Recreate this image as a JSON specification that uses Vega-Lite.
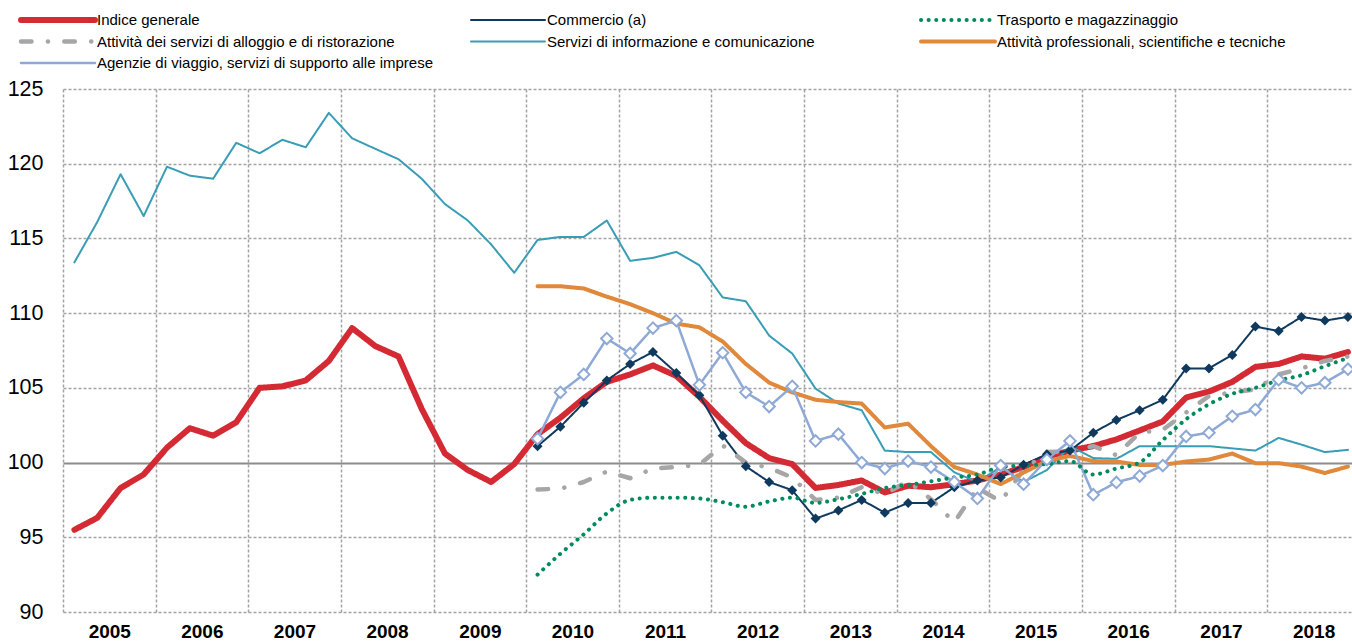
{
  "$schema": "https://vega.github.io/schema/vega-lite/v6.json",
  "width": 1289,
  "height": 523,
  "autosize": {"type": "none"},
  "padding": {"left": 63, "top": 89, "right": 0, "bottom": 31},
  "background": "white",
  "config": {
    "view": {"stroke": null},
    "font": "Liberation Sans, Arial, sans-serif"
  },
  "data": {
    "values": [
      {"d": "2005-02-15", "A": 95.5, "E": 113.4},
      {"d": "2005-05-16", "A": 96.3, "E": 116.1},
      {"d": "2005-08-16", "A": 98.3, "E": 119.3},
      {"d": "2005-11-15", "A": 99.2, "E": 116.5},
      {"d": "2006-02-15", "A": 101.0, "E": 119.8},
      {"d": "2006-05-16", "A": 102.3, "E": 119.2},
      {"d": "2006-08-16", "A": 101.8, "E": 119.0},
      {"d": "2006-11-15", "A": 102.7, "E": 121.4},
      {"d": "2007-02-15", "A": 105.0, "E": 120.7},
      {"d": "2007-05-16", "A": 105.1, "E": 121.6},
      {"d": "2007-08-16", "A": 105.5, "E": 121.1},
      {"d": "2007-11-15", "A": 106.8, "E": 123.4},
      {"d": "2008-02-15", "A": 109.0, "E": 121.7},
      {"d": "2008-05-16", "A": 107.8, "E": 121.0},
      {"d": "2008-08-16", "A": 107.1, "E": 120.3},
      {"d": "2008-11-15", "A": 103.6, "E": 119.0},
      {"d": "2009-02-15", "A": 100.6, "E": 117.3},
      {"d": "2009-05-16", "A": 99.5, "E": 116.2},
      {"d": "2009-08-16", "A": 98.7, "E": 114.6},
      {"d": "2009-11-15", "A": 99.9, "E": 112.7},
      {"d": "2010-02-15", "A": 101.9, "B": 101.1, "C": 92.5, "D": 98.2, "E": 114.9, "F": 111.8, "G": 101.6},
      {"d": "2010-05-16", "A": 103.0, "B": 102.4, "C": 93.9, "D": 98.25, "E": 115.1, "F": 111.8, "G": 104.7},
      {"d": "2010-08-16", "A": 104.3, "B": 104.0, "C": 95.2, "D": 98.7, "E": 115.1, "F": 111.65, "G": 105.9},
      {"d": "2010-11-15", "A": 105.4, "B": 105.5, "C": 96.6, "D": 99.4, "E": 116.2, "F": 111.1, "G": 108.3},
      {"d": "2011-02-15", "A": 105.9, "B": 106.6, "C": 97.5, "D": 98.95, "E": 113.5, "F": 110.6, "G": 107.3},
      {"d": "2011-05-16", "A": 106.5, "B": 107.4, "C": 97.65, "D": 99.6, "E": 113.7, "F": 110.0, "G": 109.0},
      {"d": "2011-08-16", "A": 105.8, "B": 106.0, "C": 97.65, "D": 99.7, "E": 114.1, "F": 109.3, "G": 109.5},
      {"d": "2011-11-15", "A": 104.4, "B": 104.5, "C": 97.6, "D": 99.85, "E": 113.2, "F": 109.05, "G": 105.2},
      {"d": "2012-02-15", "A": 102.8, "B": 101.8, "C": 97.35, "D": 101.15, "E": 111.05, "F": 108.1, "G": 107.35},
      {"d": "2012-05-16", "A": 101.3, "B": 99.75, "C": 97.05, "D": 100.0, "E": 110.8, "F": 106.6, "G": 104.7},
      {"d": "2012-08-16", "A": 100.3, "B": 98.7, "C": 97.4, "D": 99.65, "E": 108.5, "F": 105.35, "G": 103.75},
      {"d": "2012-11-15", "A": 99.9, "B": 98.15, "C": 97.65, "D": 99.0, "E": 107.3, "F": 104.7, "G": 105.1},
      {"d": "2013-02-15", "A": 98.3, "B": 96.25, "C": 97.3, "D": 97.5, "E": 104.95, "F": 104.2, "G": 101.45},
      {"d": "2013-05-16", "A": 98.5, "B": 96.8, "C": 97.55, "D": 97.65, "E": 103.95, "F": 104.05, "G": 101.9},
      {"d": "2013-08-16", "A": 98.8, "B": 97.5, "C": 97.9, "D": 98.35, "E": 103.5, "F": 103.95, "G": 100.0},
      {"d": "2013-11-15", "A": 98.0, "B": 96.65, "C": 98.3, "D": 97.9, "E": 100.8, "F": 102.35, "G": 99.6},
      {"d": "2014-02-15", "A": 98.45, "B": 97.3, "C": 98.5, "D": 98.75, "E": 100.7, "F": 102.6, "G": 100.1},
      {"d": "2014-05-16", "A": 98.35, "B": 97.3, "C": 98.75, "D": 97.55, "E": 100.7, "F": 101.1, "G": 99.7},
      {"d": "2014-08-16", "A": 98.55, "B": 98.35, "C": 99.0, "D": 96.0, "E": 99.35, "F": 99.7, "G": 98.7},
      {"d": "2014-11-15", "A": 98.8, "B": 98.8, "C": 99.2, "D": 98.3, "E": 98.7, "F": 99.2, "G": 97.6},
      {"d": "2015-02-15", "A": 99.2, "B": 99.0, "C": 99.7, "D": 97.4, "E": 99.7, "F": 98.56, "G": 99.8},
      {"d": "2015-05-16", "A": 99.7, "B": 99.85, "C": 99.8, "D": 99.5, "E": 98.7, "F": 99.33, "G": 98.55},
      {"d": "2015-08-16", "A": 100.4, "B": 100.55, "C": 99.9, "D": 100.7, "E": 99.5, "F": 100.1, "G": 100.2},
      {"d": "2015-11-15", "A": 100.8, "B": 100.8, "C": 100.1, "D": 100.75, "E": 101.1, "F": 100.44, "G": 101.45},
      {"d": "2016-02-15", "A": 101.1, "B": 102.0, "C": 99.2, "D": 101.1, "E": 100.3, "F": 100.1, "G": 97.85},
      {"d": "2016-05-16", "A": 101.55, "B": 102.85, "C": 99.6, "D": 100.5, "E": 100.25, "F": 100.07, "G": 98.67},
      {"d": "2016-08-16", "A": 102.15, "B": 103.5, "C": 100.0, "D": 102.0, "E": 101.1, "F": 99.84, "G": 99.1},
      {"d": "2016-11-15", "A": 102.75, "B": 104.2, "C": 101.5, "D": 102.2, "E": 101.1, "F": 99.84, "G": 99.8},
      {"d": "2017-02-15", "A": 104.35, "B": 106.3, "C": 102.9, "D": 103.35, "E": 101.1, "F": 100.07, "G": 101.75},
      {"d": "2017-05-16", "A": 104.75, "B": 106.3, "C": 103.9, "D": 104.45, "E": 101.1, "F": 100.2, "G": 102.0},
      {"d": "2017-08-16", "A": 105.4, "B": 107.2, "C": 104.6, "D": 104.7, "E": 100.95, "F": 100.6, "G": 103.1},
      {"d": "2017-11-15", "A": 106.4, "B": 109.1, "C": 105.0, "D": 104.9, "E": 100.8, "F": 99.96, "G": 103.55},
      {"d": "2018-02-15", "A": 106.6, "B": 108.8, "C": 105.5, "D": 105.9, "E": 101.65, "F": 99.96, "G": 105.55},
      {"d": "2018-05-16", "A": 107.1, "B": 109.75, "C": 105.85, "D": 106.3, "E": 101.2, "F": 99.73, "G": 105.0},
      {"d": "2018-08-16", "A": 106.95, "B": 109.5, "C": 106.45, "D": 106.8, "E": 100.7, "F": 99.3, "G": 105.35},
      {"d": "2018-11-15", "A": 107.4, "B": 109.75, "C": 107.0, "D": 107.1, "E": 100.85, "F": 99.73, "G": 106.25}
    ]
  },
  "transform": [
    {"fold": ["A", "B", "C", "D", "E", "F", "G"], "as": ["s", "v"]},
    {"filter": "isValid(datum.v)"}
  ],
  "encoding": {
    "x": {
      "field": "d",
      "type": "temporal",
      "scale": {
        "type": "utc",
        "domain": [
          {"year": 2005, "month": 1, "date": 1, "utc": true},
          {"year": 2018, "month": 12, "date": 1, "utc": true}
        ]
      },
      "axis": {
        "title": null,
        "values": [
          {"year": 2005, "month": 1, "date": 1, "utc": true},
          {"year": 2006, "month": 1, "date": 1, "utc": true},
          {"year": 2007, "month": 1, "date": 1, "utc": true},
          {"year": 2008, "month": 1, "date": 1, "utc": true},
          {"year": 2009, "month": 1, "date": 1, "utc": true},
          {"year": 2010, "month": 1, "date": 1, "utc": true},
          {"year": 2011, "month": 1, "date": 1, "utc": true},
          {"year": 2012, "month": 1, "date": 1, "utc": true},
          {"year": 2013, "month": 1, "date": 1, "utc": true},
          {"year": 2014, "month": 1, "date": 1, "utc": true},
          {"year": 2015, "month": 1, "date": 1, "utc": true},
          {"year": 2016, "month": 1, "date": 1, "utc": true},
          {"year": 2017, "month": 1, "date": 1, "utc": true},
          {"year": 2018, "month": 1, "date": 1, "utc": true}
        ],
        "format": "%Y",
        "grid": true,
        "gridColor": "#A3A3A3",
        "gridDash": [3, 2],
        "gridWidth": 1.5,
        "domain": false,
        "ticks": false,
        "tickSize": 0,
        "labelOffset": 46.3,
        "labelPadding": 10,
        "labelFontSize": 19,
        "labelFontWeight": "bold",
        "labelColor": "#000000",
        "labelFlush": false,
        "labelOverlap": false,
        "labelBound": false
      }
    },
    "y": {
      "field": "v",
      "type": "quantitative",
      "scale": {"domain": [90, 125], "zero": false, "nice": false},
      "axis": {
        "title": null,
        "values": [90, 95, 100, 105, 110, 115, 120, 125],
        "grid": true,
        "gridColor": {"condition": {"test": "datum.value === 100", "value": "#8C8C8C"}, "value": "#A3A3A3"},
        "gridDash": {"condition": {"test": "datum.value === 100", "value": []}, "value": [3, 2]},
        "gridWidth": {"condition": {"test": "datum.value === 100", "value": 2}, "value": 1.5},
        "domain": false,
        "ticks": false,
        "tickSize": 0,
        "labelPadding": 20,
        "labelFontSize": 21.5,
        "labelColor": "#000000",
        "labelFlush": false,
        "labelOverlap": false
      }
    }
  },
  "layer": [
    {
      "transform": [{"filter": "datum.s !== 'C'"}],
      "mark": {"type": "line", "strokeCap": "round", "strokeJoin": "round"},
      "encoding": {
        "color": {
          "field": "s",
          "type": "nominal",
          "scale": {
            "type": "ordinal",
            "domain": ["A", "B", "C", "D", "E", "F", "G"],
            "range": ["#D42A33", "#0F3A5E", "#008A5E", "#A6A6A6", "#3A9DB6", "#E0893C", "#8FA9D7"]
          },
          "legend": {
            "orient": "none",
            "legendX": -45,
            "legendY": -79,
            "direction": "horizontal",
            "columns": 3,
            "title": null,
            "padding": 0,
            "symbolType": "stroke",
            "symbolSize": 5476,
            "symbolOffset": 0,
            "clipHeight": 20,
            "rowPadding": 1.5,
            "columnPadding": 34,
            "gridAlign": "all",
            "labelFontSize": 15,
            "labelColor": "#000000",
            "labelOffset": -1,
            "labelLimit": 500,
            "encode": {"symbols": {"update": {"strokeCap": {"value": "round"}}}},
            "labelExpr": "datum.label === 'A' ? 'Indice generale' : datum.label === 'B' ? 'Commercio (a)' : datum.label === 'C' ? 'Trasporto e magazzinaggio' : datum.label === 'D' ? 'Attività dei servizi di alloggio e di ristorazione' : datum.label === 'E' ? 'Servizi di informazione e comunicazione' : datum.label === 'F' ? 'Attività professionali, scientifiche e tecniche' : 'Agenzie di viaggio, servizi di supporto alle imprese'"
          }
        },
        "strokeDash": {
          "field": "s",
          "type": "nominal",
          "scale": {
            "type": "ordinal",
            "domain": ["A", "B", "C", "D", "E", "F", "G"],
            "range": [[1, 0], [1, 0], [0.1, 7.5], [10.5, 16.4, 0.1, 16.3], [1, 0], [1, 0], [1, 0]]
          }
        },
        "strokeWidth": {
          "field": "s",
          "type": "nominal",
          "scale": {
            "type": "ordinal",
            "domain": ["A", "B", "C", "D", "E", "F", "G"],
            "range": [6, 2, 4, 4.5, 2, 4, 2.5]
          }
        }
      }
    },
    {
      "transform": [{"filter": "datum.s === 'C'"}],
      "mark": {"type": "line", "interpolate": "monotone", "strokeCap": "round"},
      "encoding": {
        "color": {
          "field": "s",
          "type": "nominal",
          "scale": {
            "type": "ordinal",
            "domain": ["A", "B", "C", "D", "E", "F", "G"],
            "range": ["#D42A33", "#0F3A5E", "#008A5E", "#A6A6A6", "#3A9DB6", "#E0893C", "#8FA9D7"]
          }
        },
        "strokeDash": {
          "field": "s",
          "type": "nominal",
          "scale": {
            "type": "ordinal",
            "domain": ["A", "B", "C", "D", "E", "F", "G"],
            "range": [[1, 0], [1, 0], [0.1, 7.5], [10.5, 16.4, 0.1, 16.3], [1, 0], [1, 0], [1, 0]]
          }
        },
        "strokeWidth": {
          "field": "s",
          "type": "nominal",
          "scale": {
            "type": "ordinal",
            "domain": ["A", "B", "C", "D", "E", "F", "G"],
            "range": [6, 2, 4, 4.5, 2, 4, 2.5]
          }
        }
      }
    },
    {
      "transform": [{"filter": "datum.s === 'B'"}],
      "mark": {"type": "point", "shape": "diamond", "filled": true, "size": 100, "color": "#0F3A5E", "opacity": 1}
    },
    {
      "transform": [{"filter": "datum.s === 'G'"}],
      "mark": {"type": "point", "shape": "diamond", "filled": false, "fill": "#FFFFFF", "fillOpacity": 1, "stroke": "#8FA9D7", "strokeWidth": 2, "size": 130, "opacity": 1}
    }
  ]
}
